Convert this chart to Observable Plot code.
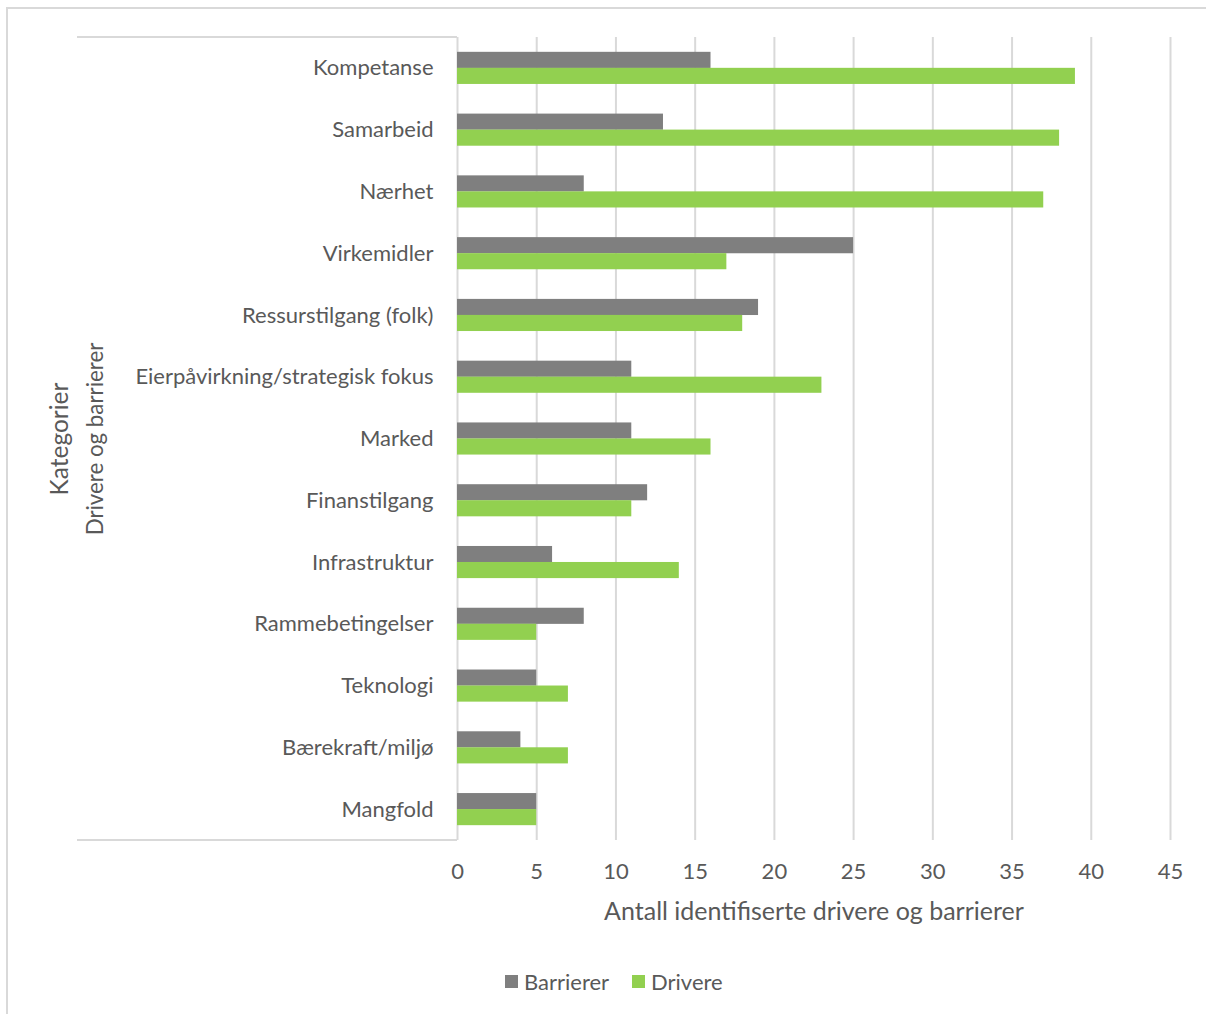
<!DOCTYPE html>
<html><head><meta charset="utf-8">
<script src="https://cdn.jsdelivr.net/npm/d3@7"></script>
<script src="https://cdn.jsdelivr.net/npm/@observablehq/plot@0.6"></script>
<style>
html,body{margin:0;padding:0;background:#fff;overflow:hidden;width:1206px;height:1014px;}
#wrap{position:relative;width:1206px;height:1014px;font-family:Lato,sans-serif;}
#border{position:absolute;left:6px;top:7px;width:1300px;height:1100px;border:2px solid #d9d9d9;box-sizing:border-box;}
#chart{position:absolute;left:0;top:0;}
#legend{position:absolute;left:505px;top:968px;display:flex;align-items:center;font-size:22px;color:#595959;white-space:nowrap;}
.item{display:flex;align-items:center;margin-right:23px;}
.sw{width:13px;height:13px;display:inline-block;margin-right:6px;}
</style></head><body>
<div id="wrap"><div id="border"></div><div id="chart"></div><div id="legend"></div></div>
<script>
const categories = ["Kompetanse","Samarbeid","Nærhet","Virkemidler","Ressurstilgang (folk)","Eierpåvirkning/strategisk fokus","Marked","Finanstilgang","Infrastruktur","Rammebetingelser","Teknologi","Bærekraft/miljø","Mangfold"];
const barrierer = [16,13,8,25,19,11,11,12,6,8,5,4,5];
const drivere   = [39,38,37,17,18,23,16,11,14,5,7,7,5];
const seriesNames = ["Barrierer","Drivere"];
const seriesColors = ["#7f7f7f","#92d050"];
const xTicks = [0,5,10,15,20,25,30,35,40,45];
const xLabel = "Antall identifiserte drivere og barrierer";
const yTitle1 = "Kategorier";
const yTitle2 = "Drivere og barrierer";

const rows = categories.map((c,i)=>({category:c, Barrierer: barrierer[i], Drivere: drivere[i]}));

const plot = Plot.plot({
  width:1206, height:940, marginTop:37, marginLeft:457, marginRight:36, marginBottom:100,
  style:{fontFamily:"Lato, sans-serif", fontSize:"22px", color:"#595959", background:"transparent", overflow:"visible"},
  x:{domain:[0,45], ticks:xTicks, label:null},
  y:{domain:categories, paddingInner:0.48, paddingOuter:0.24, round:false, label:null},
  marks:[
    Plot.ruleX(xTicks, {stroke:"#d9d9d9", strokeWidth:2}),
    Plot.barX(rows, {x:"Barrierer", y:"category", fill:seriesColors[0], insetBottom:16}),
    Plot.barX(rows, {x:"Drivere", y:"category", fill:seriesColors[1], insetTop:16}),
    Plot.axisX({ticks:xTicks, tickSize:0, tickPadding:23, label:null, fontSize:22, fill:"#595959"}),
    Plot.axisY({tickSize:0, tickPadding:24, label:null, fontSize:22, fill:"#595959"}),
    Plot.text([xLabel], {frameAnchor:"bottom", dy:71, fontSize:25, fill:"#595959", lineAnchor:"middle"}),
    Plot.text([yTitle1], {frameAnchor:"left", textAnchor:"middle", dx:-397, rotate:-90, fontSize:24.5, fill:"#595959", lineAnchor:"middle"}),
    Plot.text([yTitle2], {frameAnchor:"left", textAnchor:"middle", dx:-362, rotate:-90, fontSize:22.3, fill:"#595959", lineAnchor:"middle"})
  ]
});
document.getElementById("chart").appendChild(plot);

// category-box lines (top and bottom of the multi-level category area)
const yr = plot.scale("y").range;
const svg = d3.select(plot);
[yr[0], yr[1]].forEach(yv => {
  svg.append("line").attr("x1",77).attr("x2",457).attr("y1",yv).attr("y2",yv)
     .attr("stroke","#d9d9d9").attr("stroke-width",2);
});

const legend = d3.select("#legend");
seriesNames.forEach((n,i)=>{
  const it = legend.append("div").attr("class","item");
  it.append("span").attr("class","sw").style("background",seriesColors[i]);
  it.append("span").text(n);
});
</script>
</body></html>
